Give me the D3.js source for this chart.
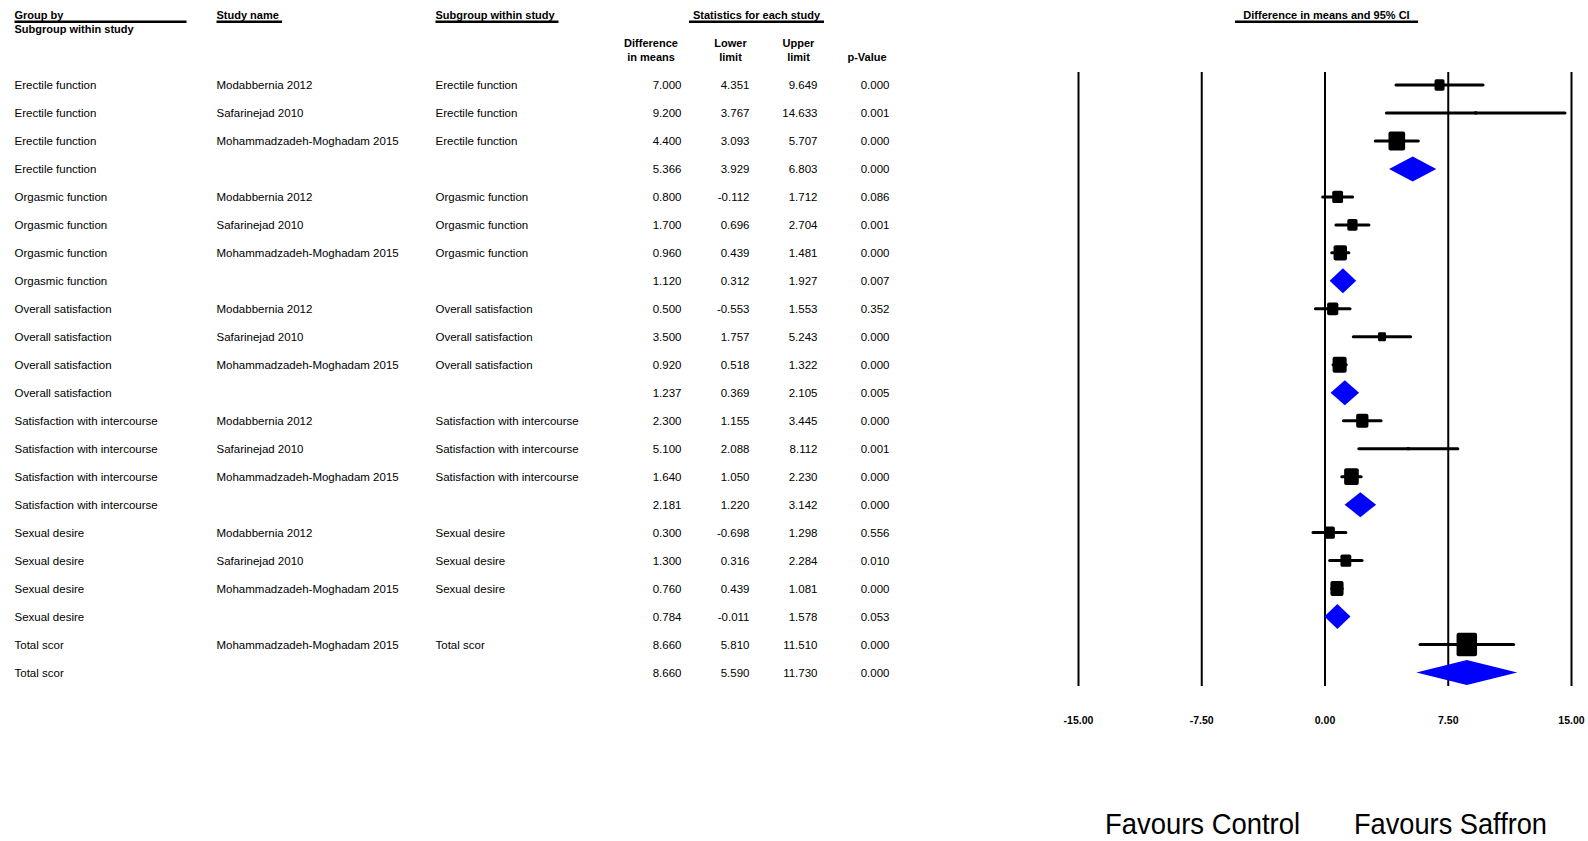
<!DOCTYPE html>
<html>
<head>
<meta charset="utf-8">
<script src="https://cdn.jsdelivr.net/npm/d3@7"></script>
<style>
  html, body { margin: 0; padding: 0; background: #fff; }
  svg { display: block; }
  text { font-family: "Liberation Sans", Arial, sans-serif; fill: #000; }
</style>
</head>
<body>
<svg id="chart" width="1588" height="841"></svg>
<script>
// ---------------- data ----------------
const groups = [
  "Erectile function","Erectile function","Erectile function","Erectile function",
  "Orgasmic function","Orgasmic function","Orgasmic function","Orgasmic function",
  "Overall satisfaction","Overall satisfaction","Overall satisfaction","Overall satisfaction",
  "Satisfaction with intercourse","Satisfaction with intercourse","Satisfaction with intercourse","Satisfaction with intercourse",
  "Sexual desire","Sexual desire","Sexual desire","Sexual desire",
  "Total scor","Total scor"
];
const studies = [
  "Modabbernia 2012","Safarinejad 2010","Mohammadzadeh-Moghadam 2015","",
  "Modabbernia 2012","Safarinejad 2010","Mohammadzadeh-Moghadam 2015","",
  "Modabbernia 2012","Safarinejad 2010","Mohammadzadeh-Moghadam 2015","",
  "Modabbernia 2012","Safarinejad 2010","Mohammadzadeh-Moghadam 2015","",
  "Modabbernia 2012","Safarinejad 2010","Mohammadzadeh-Moghadam 2015","",
  "Mohammadzadeh-Moghadam 2015",""
];
const subgroups = [
  "Erectile function","Erectile function","Erectile function","",
  "Orgasmic function","Orgasmic function","Orgasmic function","",
  "Overall satisfaction","Overall satisfaction","Overall satisfaction","",
  "Satisfaction with intercourse","Satisfaction with intercourse","Satisfaction with intercourse","",
  "Sexual desire","Sexual desire","Sexual desire","",
  "Total scor",""
];
const diffs  = [7.000, 9.200, 4.400, 5.366, 0.800, 1.700, 0.960, 1.120, 0.500, 3.500, 0.920, 1.237,
                2.300, 5.100, 1.640, 2.181, 0.300, 1.300, 0.760, 0.784, 8.660, 8.660];
const lowers = [4.351, 3.767, 3.093, 3.929, -0.112, 0.696, 0.439, 0.312, -0.553, 1.757, 0.518, 0.369,
                1.155, 2.088, 1.050, 1.220, -0.698, 0.316, 0.439, -0.011, 5.810, 5.590];
const uppers = [9.649, 14.633, 5.707, 6.803, 1.712, 2.704, 1.481, 1.927, 1.553, 5.243, 1.322, 2.105,
                3.445, 8.112, 2.230, 3.142, 1.298, 2.284, 1.081, 1.578, 11.510, 11.730];
const pValues = ["0.000","0.001","0.000","0.000","0.086","0.001","0.000","0.007","0.352","0.000","0.000","0.005",
                 "0.000","0.001","0.000","0.000","0.556","0.010","0.000","0.053","0.000","0.000"];
// estimated study weights (%); null = pooled (diamond) row
const weights = [24, 2, 66, null, 28, 25, 43, null, 30, 15, 47, null,
                 36, 2, 51, null, 28, 28, 41, null, 100, null];
const tickValues = [-15, -7.5, 0, 7.5, 15];
const headerTitles = ["Group by", "Study name", "Subgroup within study", "Statistics for each study", "Difference in means and 95% CI"];
const statHeaders = [["Difference","in means"],["Lower","limit"],["Upper","limit"],["","p-Value"]];
const favourLabels = ["Favours Control", "Favours Saffron"];

// ---------------- layout ----------------
const svg = d3.select("#chart");
const rows = d3.range(diffs.length).map(i => ({
  i, group: groups[i], study: studies[i], sub: subgroups[i],
  d: diffs[i], lo: lowers[i], hi: uppers[i], p: pValues[i], w: weights[i]
}));

const x = d3.scaleLinear().domain([-15, 15]).range([1078, 1571]);
const y = d3.scaleLinear().domain([0, rows.length - 1]).range([85, 672.5]);
const boxSize = d3.scaleSqrt().domain([0, 100]).range([0, 23.3]);
const hyphen = s => s.replace(/\u2212/g, "-");
const f3 = d3.format(".3f"), f2 = d3.format(".2f");
const fmt = v => hyphen(f3(v));

const plotTop = 72, plotBottom = 686;

// ---------- headers ----------
const hdr = svg.append("g").attr("font-weight", "bold").attr("font-size", 11);
const titleSpecs = [
  {t: headerTitles[0], x: 14.5, anchor: "start", u: [14.5, 186.5]},
  {t: headerTitles[1], x: 216.5, anchor: "start", u: [216.5, 282]},
  {t: headerTitles[2], x: 435.5, anchor: "start", u: [435.5, 558.5]},
  {t: headerTitles[3], x: 756.5, anchor: "middle", u: [689, 824]},
  {t: headerTitles[4], x: 1326.5, anchor: "middle", u: [1235, 1418]}
];
titleSpecs.forEach(s => {
  hdr.append("text").attr("x", s.x).attr("y", 18.5).attr("text-anchor", s.anchor).text(s.t);
  hdr.append("line").attr("x1", s.u[0]).attr("x2", s.u[1]).attr("y1", 21.8).attr("y2", 21.8)
     .attr("stroke", "#000").attr("stroke-width", 2.4);
});
hdr.append("text").attr("x", 14.5).attr("y", 32.5).text("Subgroup within study");

const statX = [651, 730.5, 798.5, 867];
statHeaders.forEach((h, k) => {
  hdr.append("text").attr("x", statX[k]).attr("y", 46.5).attr("text-anchor", "middle").text(h[0]);
  hdr.append("text").attr("x", statX[k]).attr("y", 60.5).attr("text-anchor", "middle").text(h[1]);
});

// ---------- table text ----------
const tbl = svg.append("g").attr("font-size", 11.5);
const rowG = tbl.selectAll("g.row").data(rows).join("g")
  .attr("class", "row").attr("transform", r => `translate(0,${y(r.i)})`);
rowG.append("text").attr("x", 14.5).attr("dy", "0.36em").text(r => r.group);
rowG.append("text").attr("x", 216.5).attr("dy", "0.36em").text(r => r.study);
rowG.append("text").attr("x", 435.5).attr("dy", "0.36em").text(r => r.sub);
rowG.append("text").attr("x", 681.5).attr("dy", "0.36em").attr("text-anchor", "end").text(r => fmt(r.d));
rowG.append("text").attr("x", 749.5).attr("dy", "0.36em").attr("text-anchor", "end").text(r => fmt(r.lo));
rowG.append("text").attr("x", 817.5).attr("dy", "0.36em").attr("text-anchor", "end").text(r => fmt(r.hi));
rowG.append("text").attr("x", 889.5).attr("dy", "0.36em").attr("text-anchor", "end").text(r => r.p);

// ---------- axis with full-height reference lines ----------
const axis = d3.axisBottom(x)
  .tickValues(tickValues)
  .tickFormat(v => hyphen(f2(v)))
  .tickSize(-(plotBottom - plotTop))
  .tickPadding(31);
const axG = svg.append("g").attr("transform", `translate(0,${plotBottom})`).call(axis);
axG.select(".domain").remove();
axG.selectAll(".tick line").attr("stroke", "#000").attr("stroke-width", 2);
axG.selectAll(".tick text")
  .attr("font-family", "'Liberation Sans', Arial, sans-serif")
  .attr("font-size", 10.5).attr("font-weight", "bold").attr("fill", "#000");

// ---------- forest marks ----------
const studyRows = rows.filter(r => r.w !== null);
const pooledRows = rows.filter(r => r.w === null);
const marks = svg.append("g");

marks.selectAll("line.ci").data(studyRows).join("line")
  .attr("class", "ci")
  .attr("x1", r => x(r.lo)).attr("x2", r => x(r.hi))
  .attr("y1", r => y(r.i)).attr("y2", r => y(r.i))
  .attr("stroke", "#000").attr("stroke-width", 3).attr("stroke-linecap", "round");

marks.selectAll("rect.box").data(studyRows).join("rect")
  .attr("class", "box")
  .attr("x", r => x(r.d) - boxSize(r.w) * 0.44)
  .attr("y", r => y(r.i) - boxSize(r.w) / 2)
  .attr("width", r => boxSize(r.w) * 0.88)
  .attr("height", r => boxSize(r.w))
  .attr("rx", r => Math.min(2, boxSize(r.w) * 0.15))
  .attr("fill", "#000");

marks.selectAll("path.diamond").data(pooledRows).join("path")
  .attr("class", "diamond")
  .attr("d", r => {
    const cy = y(r.i), h = 12.5;
    return `M${x(r.lo)},${cy} L${x(r.d)},${cy - h} L${x(r.hi)},${cy} L${x(r.d)},${cy + h} Z`;
  })
  .attr("fill", "#0000ff");

// ---------- favours labels ----------
const fav = svg.append("g").attr("font-size", 30);
fav.append("text").attr("x", 1105).attr("y", 834)
  .attr("textLength", 195).attr("lengthAdjust", "spacingAndGlyphs").text(favourLabels[0]);
fav.append("text").attr("x", 1354).attr("y", 834)
  .attr("textLength", 193).attr("lengthAdjust", "spacingAndGlyphs").text(favourLabels[1]);
</script>
</body>
</html>
